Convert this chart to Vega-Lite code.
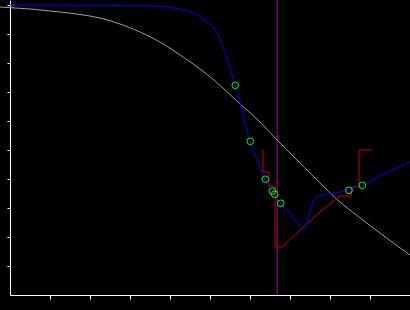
{
  "$schema": "https://vega.github.io/schema/vega-lite/v6.json",
  "autosize": {"type": "none"},
  "width": 400,
  "height": 295,
  "padding": {"left": 10, "top": 0, "right": 0, "bottom": 15},
  "background": "#000000",
  "config": {
    "view": {"stroke": null},
    "axis": {"labels": false, "grid": false, "title": null, "domainColor": "#ffffff", "tickColor": "#ffffff", "domainWidth": 1, "tickWidth": 1},
    "axisY": {"tickSize": 3},
    "axisX": {"tickSize": 4}
  },
  "datasets": {
    "gray": [
      {"x": -0.25, "y": 9.931}, {"x": 0.125, "y": 9.897}, {"x": 0.5, "y": 9.862}, {"x": 0.875, "y": 9.81},
      {"x": 1.25, "y": 9.759}, {"x": 1.75, "y": 9.672}, {"x": 2.25, "y": 9.552}, {"x": 2.75, "y": 9.345},
      {"x": 3.25, "y": 9.069}, {"x": 3.75, "y": 8.724}, {"x": 4.25, "y": 8.276}, {"x": 4.75, "y": 7.793},
      {"x": 5.125, "y": 7.379}, {"x": 5.7, "y": 6.655}, {"x": 6.25, "y": 5.966}, {"x": 6.675, "y": 5.345},
      {"x": 7.05, "y": 4.828}, {"x": 7.675, "y": 3.966}, {"x": 8.25, "y": 3.207}, {"x": 8.625, "y": 2.793},
      {"x": 9.05, "y": 2.345}, {"x": 9.55, "y": 1.828}, {"x": 10.0, "y": 1.379}
    ],
    "blue": [
      {"x": 0, "y": 10}, {"x": 3.25, "y": 9.976}, {"x": 3.875, "y": 9.941}, {"x": 4.325, "y": 9.828},
      {"x": 4.675, "y": 9.655}, {"x": 4.925, "y": 9.414}, {"x": 5.175, "y": 9.034}, {"x": 5.325, "y": 8.552},
      {"x": 5.475, "y": 7.931}, {"x": 5.625, "y": 7.241}, {"x": 5.75, "y": 6.655}, {"x": 5.875, "y": 5.931},
      {"x": 6.0, "y": 5.31}, {"x": 6.125, "y": 4.828}, {"x": 6.25, "y": 4.379}, {"x": 6.375, "y": 4.0},
      {"x": 6.55, "y": 3.586}, {"x": 6.6125, "y": 3.466}, {"x": 6.7625, "y": 3.162}, {"x": 7.0, "y": 2.828},
      {"x": 7.125, "y": 2.586}, {"x": 7.25, "y": 2.345}, {"x": 7.3, "y": 2.276}, {"x": 7.375, "y": 2.345},
      {"x": 7.5, "y": 2.828}, {"x": 7.575, "y": 3.207}, {"x": 7.675, "y": 3.379}, {"x": 7.825, "y": 3.448},
      {"x": 8.075, "y": 3.517}, {"x": 8.25, "y": 3.552}, {"x": 8.475, "y": 3.621}, {"x": 8.8, "y": 3.759},
      {"x": 9.2, "y": 4.069}, {"x": 9.625, "y": 4.345}, {"x": 10.0, "y": 4.586}
    ],
    "red": [
      {"i": 0, "x": 6.3, "y": 5.0}, {"i": 1, "x": 6.325, "y": 5.0}, {"i": 2, "x": 6.325, "y": 4.241},
      {"i": 3, "x": 6.475, "y": 4.241}, {"i": 4, "x": 6.475, "y": 3.759}, {"i": 5, "x": 6.625, "y": 3.759},
      {"i": 6, "x": 6.625, "y": 1.655}, {"i": 7, "x": 6.8, "y": 1.655}, {"i": 8, "x": 7.25, "y": 2.241},
      {"i": 9, "x": 7.75, "y": 2.862}, {"i": 10, "x": 8.25, "y": 3.414}, {"i": 11, "x": 8.525, "y": 3.414},
      {"i": 12, "x": 8.525, "y": 3.724}, {"i": 13, "x": 8.725, "y": 3.724}, {"i": 14, "x": 8.725, "y": 5.0},
      {"i": 15, "x": 9.05, "y": 5.0}
    ],
    "pts": [
      {"x": 5.633, "y": 7.231}, {"x": 6.008, "y": 5.3}, {"x": 6.383, "y": 3.99}, {"x": 6.558, "y": 3.586},
      {"x": 6.618, "y": 3.472}, {"x": 6.768, "y": 3.162}, {"x": 8.475, "y": 3.61}, {"x": 8.808, "y": 3.783}
    ],
    "vline": [{"x": 6.68}]
  },
  "layer": [
    {
      "data": {"name": "vline"},
      "mark": {"type": "rule", "color": "#a000a0", "strokeWidth": 1},
      "encoding": {"x": {"field": "x", "type": "quantitative", "scale": {"domain": [0, 10], "nice": false, "zero": false}, "axis": {"values": [1, 2, 3, 4, 5, 6, 7, 8, 9]}}}
    },
    {
      "data": {"name": "gray"},
      "mark": {"type": "line", "color": "#a0a0a0", "strokeWidth": 1, "interpolate": "monotone", "clip": false},
      "encoding": {
        "x": {"field": "x", "type": "quantitative", "scale": {"domain": [0, 10], "nice": false, "zero": false}, "axis": {"values": [1, 2, 3, 4, 5, 6, 7, 8, 9]}},
        "y": {"field": "y", "type": "quantitative", "scale": {"domain": [0, 10.1724], "nice": false, "zero": false}, "axis": {"values": [1, 2, 3, 4, 5, 6, 7, 8, 9, 10]}}
      }
    },
    {
      "data": {"name": "red"},
      "mark": {"type": "line", "color": "#cc0000", "strokeWidth": 1},
      "encoding": {
        "x": {"field": "x", "type": "quantitative", "scale": {"domain": [0, 10], "nice": false, "zero": false}, "axis": {"values": [1, 2, 3, 4, 5, 6, 7, 8, 9]}},
        "y": {"field": "y", "type": "quantitative", "scale": {"domain": [0, 10.1724], "nice": false, "zero": false}, "axis": {"values": [1, 2, 3, 4, 5, 6, 7, 8, 9, 10]}},
        "order": {"field": "i", "type": "quantitative"}
      }
    },
    {
      "data": {"name": "blue"},
      "mark": {"type": "line", "color": "#0000ff", "strokeWidth": 1, "interpolate": "monotone"},
      "encoding": {
        "x": {"field": "x", "type": "quantitative", "scale": {"domain": [0, 10], "nice": false, "zero": false}, "axis": {"values": [1, 2, 3, 4, 5, 6, 7, 8, 9]}},
        "y": {"field": "y", "type": "quantitative", "scale": {"domain": [0, 10.1724], "nice": false, "zero": false}, "axis": {"values": [1, 2, 3, 4, 5, 6, 7, 8, 9, 10]}}
      }
    },
    {
      "data": {"name": "pts"},
      "mark": {"type": "point", "shape": "circle", "filled": false, "color": "#00ff00", "size": 45, "strokeWidth": 1, "opacity": 1},
      "encoding": {
        "x": {"field": "x", "type": "quantitative", "scale": {"domain": [0, 10], "nice": false, "zero": false}, "axis": {"values": [1, 2, 3, 4, 5, 6, 7, 8, 9]}},
        "y": {"field": "y", "type": "quantitative", "scale": {"domain": [0, 10.1724], "nice": false, "zero": false}, "axis": {"values": [1, 2, 3, 4, 5, 6, 7, 8, 9, 10]}}
      }
    }
  ]
}
